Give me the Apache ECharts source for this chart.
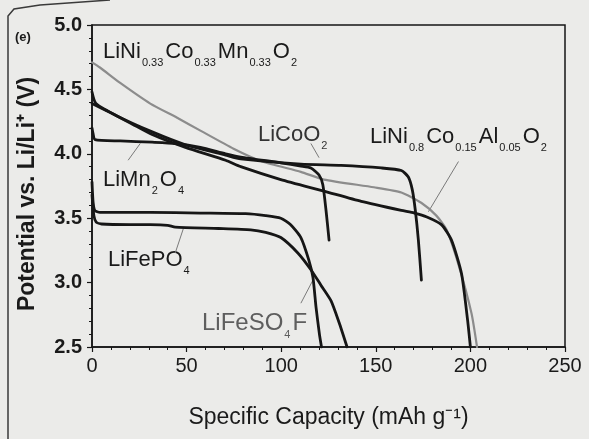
<!DOCTYPE html>
<html>
<head>
<meta charset="utf-8">
<script src="https://cdn.jsdelivr.net/npm/echarts@6/dist/echarts.min.js"></script>
<style>
  html, body { margin: 0; padding: 0; background: #ebebe9; }
  #chart { width: 589px; height: 439px; }
</style>
</head>
<body>
<div id="chart"></div>
<script>
// discharge curves, capacity in mAh/g and potential in V
const nmcCapacity = [0, 4.2, 14.9, 30.8, 45, 57.3, 74.8, 90, 110.4, 122.6, 149, 163.5, 174, 182, 187.4, 193.7, 200.6, 203.5]
const nmcVoltage = [4.71, 4.67, 4.55, 4.39, 4.28, 4.18, 4.04, 3.94, 3.86, 3.80, 3.74, 3.70, 3.62, 3.52, 3.41, 3.14, 2.76, 2.50]

const ncaCapacity = [0, 9.6, 20.2, 31.8, 49.4, 70.6, 78.6, 99.8, 122.6, 142.3, 163.5, 170.4, 177, 184.7, 190, 195.3, 198.5, 200]
const ncaVoltage = [4.39, 4.32, 4.24, 4.15, 4.05, 3.95, 3.90, 3.80, 3.71, 3.63, 3.56, 3.54, 3.51, 3.45, 3.33, 3.07, 2.71, 2.50]

const lcoCapacity = [0, 2.1, 13.8, 31.8, 49.4, 70.6, 78.6, 110.4, 131.6, 152.9, 163.5, 167.2, 169.3, 170.9, 172.5, 174.1]
const lcoVoltage = [4.48, 4.39, 4.29, 4.17, 4.07, 3.99, 3.96, 3.92, 3.91, 3.89, 3.87, 3.82, 3.72, 3.56, 3.33, 3.02]

const lmoCapacity = [0, 0.5, 1.6, 14.9, 31.8, 44, 57.3, 70.6, 78.6, 99.8, 110.4, 115.7, 120, 122, 123.7, 125.3]
const lmoVoltage = [4.20, 4.16, 4.11, 4.10, 4.09, 4.08, 4.05, 4.00, 3.975, 3.93, 3.905, 3.89, 3.835, 3.76, 3.56, 3.33]

const lfsfCapacity = [0, 0.6, 1.5, 4.2, 30.8, 57.3, 81.2, 91.8, 99.8, 105, 110.4, 114.6, 116.8, 118.4, 120.2, 121.3]
const lfsfVoltage = [3.78, 3.62, 3.56, 3.545, 3.545, 3.54, 3.535, 3.52, 3.50, 3.45, 3.35, 3.175, 3.04, 2.81, 2.60, 2.50]

const lfpCapacity = [0, 1, 2.2, 5, 20.2, 30.8, 40, 44, 66.9, 83.9, 91.8, 99.8, 108.8, 115.7, 121, 126.3, 130.6, 134.8]
const lfpVoltage = [3.68, 3.52, 3.47, 3.455, 3.45, 3.45, 3.445, 3.43, 3.42, 3.41, 3.39, 3.35, 3.23, 3.10, 2.98, 2.86, 2.69, 2.50]

// label leader lines, [capacity, voltage] pairs
const leaders = [
  [[19.1, 3.95], [25.5, 4.08]],
  [[115.7, 4.08], [120, 3.97]],
  [[193.7, 3.94], [177.8, 3.55]],
  [[44, 3.23], [48.3, 3.42]],
  [[110.4, 2.84], [116.8, 3.02]]
]

const xTicks = [0, 50, 100, 150, 200, 250]
const yTicks = [2.5, 3.0, 3.5, 4.0, 4.5, 5.0]

const BLACK = '#161616'
const GRAY = '#8c8c8c'
const FONT = 'Liberation Sans'

function zip(xs, ys) {
  return xs.map((x, i) => [x, ys[i]])
}

function curve(name, xs, ys, color, width) {
  return {
    name: name,
    type: 'line',
    data: zip(xs, ys),
    showSymbol: false,
    smooth: 0.2,
    lineStyle: { color: color, width: width, join: 'round', cap: 'round' },
    silent: true,
    z: color === GRAY ? 3 : 4
  }
}

// subscript labels: {m|...} main text, {s|...} subscript
function formula(parts, size, color) {
  return {
    text: parts.map((p, i) => (i % 2 === 0 ? '{m|' : '{s|') + p + '}').filter(t => t !== '{m|}' && t !== '{s|}').join(''),
    fill: color,
    rich: {
      m: { fontSize: size, fontFamily: FONT, lineHeight: size + 2, verticalAlign: 'top', fill: color },
      s: { fontSize: 11, fontFamily: FONT, lineHeight: 12, verticalAlign: 'top', padding: [size - 6, 2, 0, 1], fill: color }
    }
  }
}

const chart = echarts.init(document.getElementById('chart'))

const series = [
  curve('LiNi0.33Co0.33Mn0.33O2', nmcCapacity, nmcVoltage, GRAY, 2.2),
  curve('LiNi0.8Co0.15Al0.05O2', ncaCapacity, ncaVoltage, BLACK, 2.8),
  curve('LiCoO2', lcoCapacity, lcoVoltage, BLACK, 2.8),
  curve('LiMn2O4', lmoCapacity, lmoVoltage, BLACK, 2.8),
  curve('LiFeSO4F', lfsfCapacity, lfsfVoltage, BLACK, 2.8),
  curve('LiFePO4', lfpCapacity, lfpVoltage, BLACK, 2.8)
]

leaders.forEach(pair => {
  series.push({
    type: 'line',
    data: pair,
    showSymbol: false,
    silent: true,
    lineStyle: { color: '#7a7a7a', width: 1 },
    z: 2
  })
})

chart.setOption({
  animation: false,
  backgroundColor: '#ebebe9',
  grid: {
    left: 92, right: 24, top: 25, bottom: 92,
    show: true, borderColor: BLACK, borderWidth: 1.5
  },
  xAxis: {
    type: 'value',
    min: xTicks[0],
    max: xTicks[xTicks.length - 1],
    interval: 50,
    name: 'Specific Capacity (mAh g\u207B\u00B9)',
    nameLocation: 'middle',
    nameGap: 59,
    nameTextStyle: { fontSize: 23, fontFamily: FONT, color: '#1a1a1a' },
    axisLine: { lineStyle: { color: BLACK, width: 1.5 } },
    axisTick: { length: 5, lineStyle: { color: BLACK, width: 1.2 } },
    minorTick: { show: true, splitNumber: 5, length: 3, lineStyle: { color: BLACK, width: 1 } },
    splitLine: { show: false },
    axisLabel: { fontSize: 20, fontFamily: FONT, color: '#1a1a1a', margin: 9 }
  },
  yAxis: {
    type: 'value',
    min: yTicks[0],
    max: yTicks[yTicks.length - 1],
    interval: 0.5,
    name: 'Potential vs. Li/Li\u207A (V)',
    nameLocation: 'middle',
    nameGap: 53,
    nameTextStyle: { fontSize: 23, fontFamily: FONT, fontWeight: 'bold', color: '#1a1a1a', padding: [0, 16, 0, 0] },
    axisLine: { lineStyle: { color: BLACK, width: 1.5 } },
    axisTick: { length: 5, lineStyle: { color: BLACK, width: 1.2 } },
    minorTick: { show: true, splitNumber: 5, length: 3, lineStyle: { color: BLACK, width: 1 } },
    splitLine: { show: false },
    axisLabel: {
      fontSize: 20, fontFamily: FONT, fontWeight: 'bold', color: '#1a1a1a', margin: 10,
      formatter: v => v.toFixed(1)
    }
  },
  series: series,
  graphic: [
    { type: 'polyline', silent: true, shape: { points: [[8, 439], [8, 16], [14, 9], [40, 5], [110, 0]] }, style: { stroke: '#3a3a3a', lineWidth: 1.5, fill: null } },
    { type: 'text', left: 15, top: 31, style: { text: '(e)', font: 'bold 13px ' + FONT, fill: '#1a1a1a' } },
    { type: 'text', left: 103, top: 41, style: formula(['LiNi', '0.33', 'Co', '0.33', 'Mn', '0.33', 'O', '2'], 22, '#1a1a1a') },
    { type: 'text', left: 258, top: 124, style: formula(['LiCoO', '2'], 22, '#333333') },
    { type: 'text', left: 370, top: 126, style: formula(['LiNi', '0.8', 'Co', '0.15', 'Al', '0.05', 'O', '2'], 22, '#1a1a1a') },
    { type: 'text', left: 103, top: 169, style: formula(['LiMn', '2', 'O', '4'], 22, '#1a1a1a') },
    { type: 'text', left: 108, top: 249, style: formula(['LiFePO', '4'], 22, '#1a1a1a') },
    { type: 'text', left: 202, top: 311, style: formula(['LiFeSO', '4', 'F'], 24, '#5e5e5e') }
  ]
})
</script>
</body>
</html>
